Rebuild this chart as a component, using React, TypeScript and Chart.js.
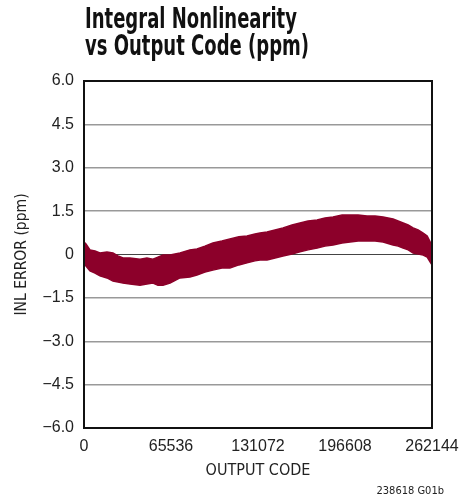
import React, { useEffect, useRef } from 'react';
import { Chart, registerables } from 'chart.js';

Chart.register(...registerables);

// Output codes at which the envelope of the INL band was read
const codes = [
  0, 1500, 4500, 8300, 12000, 17300, 21800, 25600, 29400, 34600, 42200, 47400, 51900,
  55700, 59500, 64800, 72300, 79800, 85100, 91100, 97100, 103900, 109900, 116700, 122800,
  128800, 132600, 137900, 143900, 149900, 156700, 162700, 168800, 175600, 181600, 187600,
  194400, 200400, 206500, 213200, 219300, 225300, 232800, 236600, 240400, 244200, 247900,
  251700, 255500, 258500, 260800, 262144,
];

// Upper edge of the INL band (ppm)
const upperPpm = [
  0.43, 0.36, 0.16, 0.12, 0.05, 0.09, 0.05, -0.05, -0.12, -0.12, -0.16, -0.12, -0.16,
  -0.09, -0.02, -0.02, 0.05, 0.16, 0.19, 0.29, 0.4, 0.47, 0.54, 0.61, 0.64,
  0.71, 0.74, 0.78, 0.85, 0.92, 1.02, 1.09, 1.16, 1.19, 1.26, 1.3,
  1.37, 1.37, 1.37, 1.33, 1.33, 1.3, 1.23, 1.16, 1.09, 1.02, 0.92,
  0.85, 0.74, 0.64, 0.43, 0.22,
];

// Lower edge of the INL band (ppm)
const lowerPpm = [
  -0.29, -0.4, -0.57, -0.64, -0.74, -0.81, -0.92, -0.95, -0.99, -1.02, -1.06, -1.02, -0.99,
  -1.06, -1.06, -0.99, -0.81, -0.78, -0.71, -0.61, -0.54, -0.47, -0.47, -0.36, -0.29,
  -0.22, -0.19, -0.19, -0.12, -0.05, 0.02, 0.09, 0.16, 0.22, 0.29, 0.33,
  0.4, 0.43, 0.47, 0.47, 0.47, 0.43, 0.33, 0.29, 0.22, 0.16, 0.05,
  0.02, -0.02, -0.09, -0.26, -0.36,
];

const yTicks = [-6, -4.5, -3, -1.5, 0, 1.5, 3, 4.5, 6];
const yTickLabels = ['\u22126.0', '\u22124.5', '\u22123.0', '\u22121.5', '0', '1.5', '3.0', '4.5', '6.0'];
const xTicks = [0, 65536, 131072, 196608, 262144];
const xTickLabels = ['0', '65536', '131072', '196608', '262144'];

const titleLines = ['Integral Nonlinearity', 'vs Output Code (ppm)'];
const xTitle = 'OUTPUT CODE';
const yTitle = 'INL ERROR (ppm)';
const footnote = '238618 G01b';

const COND = "'DejaVu Sans Condensed', 'Liberation Sans Narrow', sans-serif";
const TICK = "'Liberation Sans', Arial, sans-serif";
const BAND = '#8c002a';

const boxPlugin = {
  id: 'box',
  afterDatasetsDraw(chart: any) {
    const { ctx, chartArea } = chart;
    const { left, top, right, bottom } = chartArea;
    ctx.save();
    ctx.strokeStyle = '#111';
    ctx.lineWidth = 2;
    ctx.strokeRect(left, top, right - left, bottom - top);
    ctx.restore();
  },
};

export default function App() {
  const ref = useRef<HTMLCanvasElement>(null);

  useEffect(() => {
    document.body.style.margin = '0';
    const canvas = ref.current;
    if (!canvas) return;
    const chart = new Chart(canvas, {
      type: 'line',
      data: {
        datasets: [
          {
            data: codes.map((c, i) => ({ x: c, y: upperPpm[i] })),
            borderColor: BAND,
            backgroundColor: BAND,
            borderWidth: 1.5,
            pointRadius: 0,
            fill: 1,
            tension: 0,
          },
          {
            data: codes.map((c, i) => ({ x: c, y: lowerPpm[i] })),
            borderColor: BAND,
            backgroundColor: BAND,
            borderWidth: 1.5,
            pointRadius: 0,
            fill: false,
            tension: 0,
          },
        ],
      },
      options: {
        responsive: false,
        animation: false,
        devicePixelRatio: 1,
        layout: { padding: { top: 81, right: 28, left: 0, bottom: 0 } },
        plugins: {
          legend: { display: false },
          tooltip: { enabled: false },
          title: { display: false },
        },
        scales: {
          x: {
            type: 'linear',
            min: 0,
            max: 262144,
            afterBuildTicks: (s: any) => {
              s.ticks = xTicks.map((v) => ({ value: v }));
            },
            afterFit: (s: any) => {
              s.height = 70;
              s.paddingLeft = 0;
              s.paddingRight = 0;
            },
            ticks: {
              autoSkip: false,
              maxRotation: 0,
              padding: 9,
              color: '#222',
              font: { family: TICK, size: 16 },
              callback: (_v: any, i: number) => xTickLabels[i],
            },
            grid: { display: false, drawTicks: false },
            border: { display: false },
            title: {
              display: true,
              text: xTitle,
              color: '#222',
              font: { family: COND, size: 16 },
              padding: { top: 0, bottom: 18 },
            },
          },
          y: {
            type: 'linear',
            min: -6,
            max: 6,
            afterBuildTicks: (s: any) => {
              s.ticks = yTicks.map((v) => ({ value: v }));
            },
            afterFit: (s: any) => {
              s.width = 84;
            },
            ticks: {
              autoSkip: false,
              padding: 10,
              color: '#222',
              font: { family: TICK, size: 16 },
              callback: (_v: any, i: number) => yTickLabels[i],
            },
            grid: {
              drawTicks: false,
              color: (c: any) => (c.tick && c.tick.value === 0 ? '#444' : '#999'),
              lineWidth: (c: any) => (c.tick && c.tick.value === 0 ? 1 : 1.5),
            },
            border: { display: false },
            title: {
              display: true,
              text: yTitle,
              color: '#222',
              font: { family: COND, size: 15.5 },
              padding: { top: 13, bottom: 0 },
            },
          },
        },
      },
      plugins: [boxPlugin],
    } as any);
    return () => chart.destroy();
  }, []);

  return (
    <div style={{ position: 'relative', width: 460, height: 498, background: '#fff', overflow: 'hidden' }}>
      <canvas ref={ref} width={460} height={498} style={{ display: 'block' }} />
      <div
        style={{
          position: 'absolute',
          left: 85,
          top: 5,
          fontFamily: COND,
          fontWeight: 'bold',
          fontSize: 28,
          lineHeight: '27px',
          color: '#111',
          whiteSpace: 'nowrap',
          transform: 'scaleX(0.715)',
          transformOrigin: 'left top',
        }}
      >
        {titleLines.map((t) => (
          <div key={t}>{t}</div>
        ))}
      </div>
      <div
        style={{
          position: 'absolute',
          right: 16,
          top: 484,
          fontFamily: COND,
          fontSize: 11,
          lineHeight: '13px',
          color: '#222',
          whiteSpace: 'nowrap',
        }}
      >
        {footnote}
      </div>
    </div>
  );
}
